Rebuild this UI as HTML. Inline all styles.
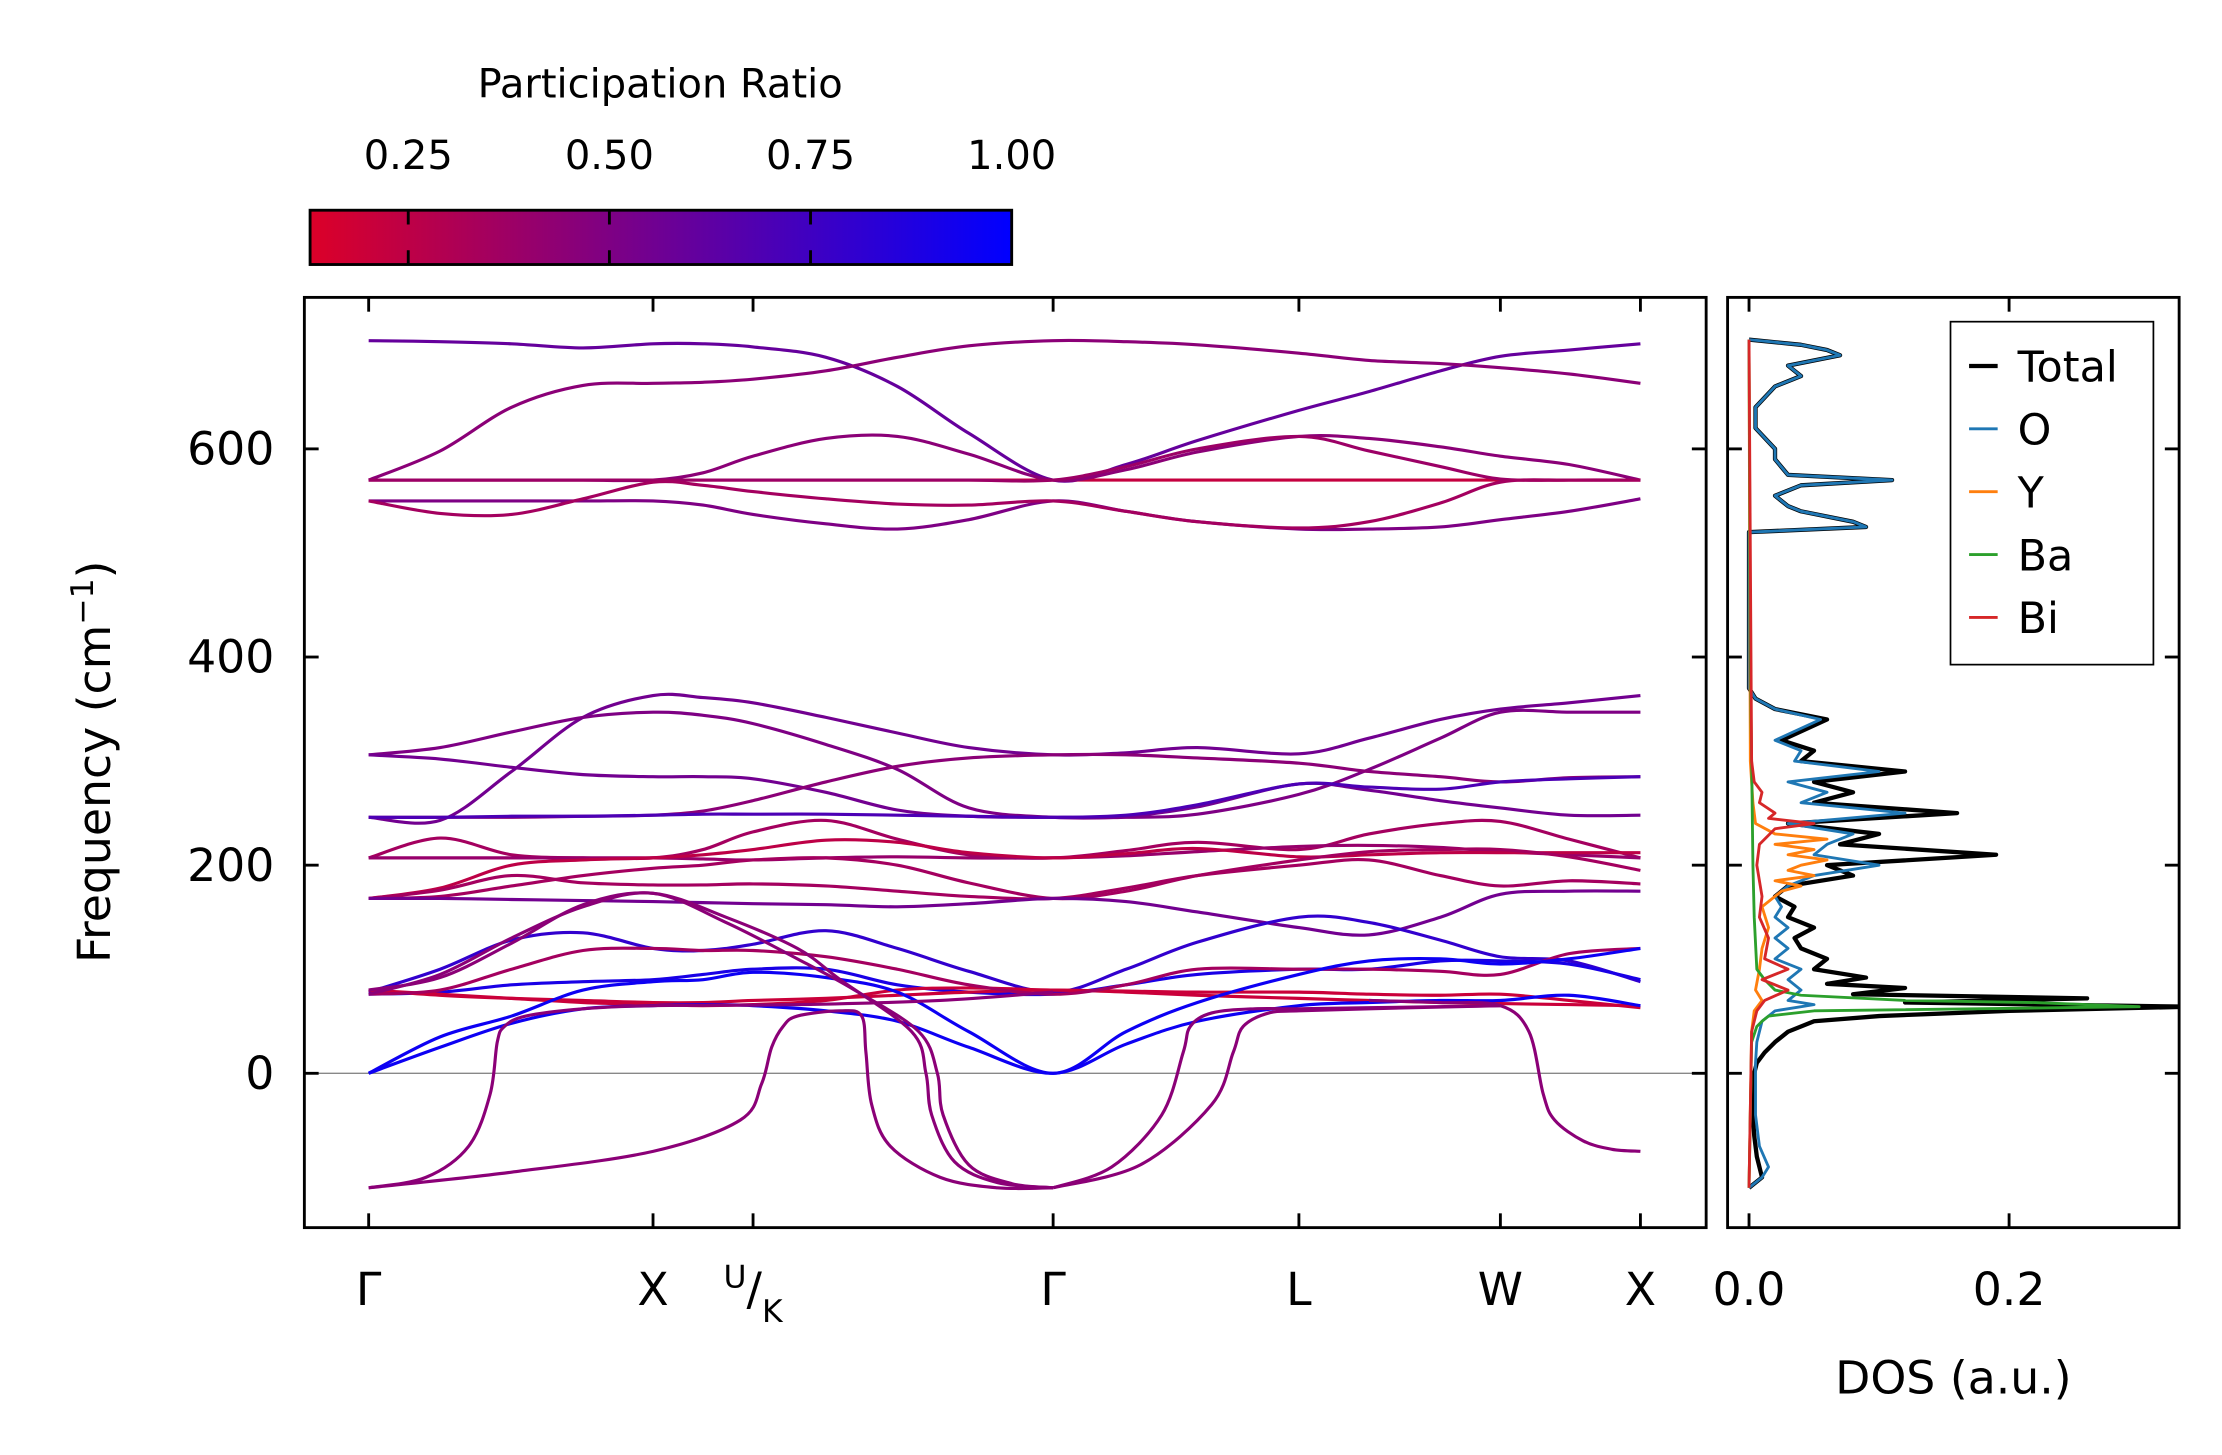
<!DOCTYPE html>
<html><head><meta charset="utf-8"><style>
html,body{margin:0;padding:0;background:#fff}
svg{display:block}
text{font-family:"DejaVu Sans","Liberation Sans",sans-serif;fill:#000}
</style></head><body>
<svg id="fig" width="2222" height="1455" viewBox="0 0 1555 1018" xmlns="http://www.w3.org/2000/svg">
<defs>
<linearGradient id="cbg" x1="0" x2="1" y1="0" y2="0">
<stop offset="0" stop-color="rgb(220,0,40)"/><stop offset="1" stop-color="rgb(0,0,255)"/>
</linearGradient>
<clipPath id="clipMain"><rect x="213" y="208" width="981" height="651"/></clipPath>
<clipPath id="clipDos"><rect x="1209" y="208" width="316" height="651"/></clipPath>
</defs>
<g id="colorbar">
<text x="462" y="68" font-size="28" text-anchor="middle">Participation Ratio</text>
<rect x="217" y="147" width="491" height="38" fill="url(#cbg)" stroke="#000" stroke-width="2"/>
</g>
<g id="bands" clip-path="url(#clipMain)"></g>
<g id="dos" clip-path="url(#clipDos)"></g>
<g id="axes"></g>
<g id="legend">
<rect x="1365" y="225" width="142" height="240" fill="#fff" stroke="#000" stroke-width="1.2"/>
</g>
</svg>
<script>
// ---- Band structure data ----
const kTickPos = [0,199,269,479,651,792,890];
const kTickLabels = ["Γ","X","U/K","Γ","L","W","X"];
const kGrid = [0,50,100,150,199,234,269,320,370,420,479,530,580,651,700,750,792,840,890];
const bandFreqs = [
[704,703,701,697,701,701,698,688,660,615,570,585,608,637,655,675,689,695,701],
[570,598,640,661,663,664,667,675,688,699,704,703,700,692,685,682,678,672,663],
[570,570,570,570,570,570,570,570,570,570,570,570,570,570,570,570,570,570,570],
[570,570,570,570,570,577,593,610,612,595,570,580,597,612,610,602,593,585,570],
[570,570,570,570,570,570,570,570,570,570,570,583,600,612,598,583,571,570,570],
[550,550,550,550,550,546,537,528,523,532,550,540,530,523,523,525,532,540,552],
[550,538,537,552,568,565,559,552,547,546,550,540,530,524,530,548,568,570,570],
[246,243,290,342,363,361,356,342,327,313,306,308,313,307,322,340,350,356,363],
[306,313,328,342,347,344,336,316,292,255,246,246,249,268,292,322,347,347,347],
[306,302,294,287,285,285,283,270,253,247,246,247,256,278,272,262,255,248,248],
[246,246,246,247,248,252,262,280,295,303,306,306,303,298,290,285,280,284,285],
[246,246,247,247,248,249,249,249,248,247,246,248,258,278,275,273,280,283,285],
[207,226,210,207,207,215,232,243,225,210,207,214,222,215,230,240,242,225,207],
[207,207,207,207,207,206,205,207,208,207,207,209,213,218,219,217,213,210,207],
[168,178,200,205,207,210,215,224,222,212,207,211,216,208,210,212,212,212,212],
[168,170,180,190,197,200,205,207,200,183,168,175,190,205,213,215,215,208,195],
[168,176,190,183,181,181,182,180,175,170,168,178,190,200,205,190,180,185,182],
[168,168,167,166,165,164,163,162,160,163,168,165,155,140,133,150,172,175,175],
[78,100,128,135,120,118,124,137,120,98,78,100,126,150,145,128,112,108,88],
[76,78,85,88,90,95,100,100,85,78,76,85,95,100,100,108,108,105,90],
[80,75,72,70,68,68,70,72,75,78,80,78,75,72,70,68,67,66,65],
[80,76,72,68,66,65,66,70,80,82,80,79,78,78,76,75,76,70,63],
[76,80,100,118,120,118,118,112,100,85,76,85,100,100,100,98,95,115,120],
[0,35,55,80,88,90,97,92,78,40,0,40,68,95,108,110,105,110,120],
[0,25,48,62,65,66,65,60,50,25,0,28,50,65,68,70,70,75,65]
];
const bandPR = [0.6,0.45,0.22,0.45,0.38,0.5,0.35,0.55,0.5,0.55,0.45,0.7,0.35,0.4,0.25,0.35,0.35,0.55,0.8,0.9,0.2,0.2,0.35,0.95,0.95];
const softK = [
[0,40,70,85,90,95,110,150,199,300,400,479],
[0,100,199,260,275,282,290,300,330,345,348,352,365,400,440,479],
[0,50,100,150,199,250,300,330,380,390,394,410,440,479],
[0,50,100,150,199,250,300,340,385,398,402,420,450,479],
[479,520,555,570,575,590,620,651,700,792],
[479,540,590,605,612,630,651,700,792],
[700,750,792,812,822,830,850,870,890]
];
const softF = [
[-110,-100,-70,-20,30,45,55,62,65,66,70,78],
[-110,-95,-75,-45,-10,25,45,55,60,55,20,-30,-70,-100,-110,-110],
[80,92,125,162,173,150,120,90,40,0,-40,-85,-105,-110],
[76,95,130,160,173,145,110,80,40,0,-40,-88,-106,-110],
[-110,-90,-40,20,45,58,62,62,63,65],
[-110,-88,-30,20,45,58,60,62,65],
[70,68,65,40,-20,-45,-65,-73,-75]
];
const softPR = [0.45,0.45,0.45,0.45,0.45,0.45,0.45];
const yTicks = [0,200,400,600];
const cbTicks = [0.25,0.5,0.75,1.0];
const cbLabels = ["0.25","0.50","0.75","1.00"];
// ---- DOS data ----
const dosTotalF = [-110,-100,-80,-60,-40,-20,0,10,20,30,40,50,55,60,64,68,72,76,82,86,92,100,110,120,130,140,150,160,170,180,190,200,210,220,230,240,250,260,270,280,290,300,310,320,340,350,360,370,520,525,530,540,545,555,565,570,575,590,600,620,640,660,670,680,690,695,700,705];
const dosTotalV = [0,0.01,0.006,0.004,0.003,0.003,0.004,0.006,0.012,0.02,0.03,0.05,0.1,0.2,0.34,0.12,0.26,0.08,0.12,0.06,0.09,0.05,0.06,0.04,0.035,0.05,0.03,0.035,0.02,0.03,0.08,0.06,0.19,0.07,0.1,0.03,0.16,0.05,0.08,0.05,0.12,0.04,0.05,0.025,0.06,0.02,0.005,0,0,0.09,0.08,0.04,0.03,0.02,0.04,0.11,0.03,0.02,0.02,0.005,0.005,0.02,0.04,0.03,0.07,0.06,0.04,0];
const dosOF = [-110,-100,-90,-70,-40,-10,10,30,50,60,66,70,80,90,100,110,120,130,140,150,160,170,180,190,200,210,220,230,240,250,260,270,280,290,300,310,320,340,350,360,370,520,525,530,540,545,555,565,570,575,590,600,620,640,660,670,680,690,695,700,705];
const dosOV = [0,0.01,0.015,0.008,0.005,0.005,0.005,0.006,0.01,0.02,0.05,0.03,0.04,0.03,0.04,0.02,0.03,0.02,0.03,0.02,0.025,0.02,0.03,0.05,0.1,0.05,0.06,0.08,0.03,0.12,0.04,0.06,0.03,0.1,0.035,0.04,0.02,0.055,0.02,0.005,0,0,0.09,0.08,0.04,0.03,0.02,0.04,0.11,0.03,0.02,0.02,0.005,0.005,0.02,0.04,0.03,0.07,0.06,0.04,0];
const dosYF = [-110,40,60,70,80,100,120,140,160,175,180,185,190,195,200,205,210,215,220,225,230,240,260,300,705];
const dosYV = [0,0.002,0.004,0.01,0.005,0.008,0.01,0.015,0.01,0.025,0.04,0.02,0.05,0.03,0.04,0.06,0.03,0.05,0.02,0.06,0.02,0.005,0.003,0.001,0];
const dosBaF = [-110,30,45,50,55,60,64,68,70,75,80,90,100,150,200,300,400,705];
const dosBaV = [0,0.002,0.006,0.01,0.015,0.05,0.3,0.22,0.12,0.04,0.02,0.012,0.006,0.004,0.003,0.002,0.001,0];
const dosBiF = [-110,40,60,70,80,90,100,110,130,150,170,200,220,235,240,245,250,260,270,280,300,705];
const dosBiV = [0,0.002,0.006,0.012,0.03,0.01,0.03,0.012,0.015,0.008,0.01,0.006,0.008,0.02,0.05,0.015,0.02,0.008,0.01,0.004,0.002,0];
const legendNames = ["Total","O","Y","Ba","Bi"];
const legendColors = ["#000000","#1f77b4","#ff7f0e","#2ca02c","#d62728"];

const NS="http://www.w3.org/2000/svg";
const X0=258, YZ=751, YS=0.7283, DX0=1224, DXS=910;
const xK=k=>X0+k, yF=f=>YZ-f*YS, xD=v=>DX0+v*DXS;
function prColor(p){const t=Math.max(0,Math.min(1,(p-0.128)/(1-0.128)));return `rgb(${Math.round(220*(1-t))},0,${Math.round(40+215*t)})`;}
function mk(tag,attrs,parent){const e=document.createElementNS(NS,tag);for(const a in attrs)e.setAttribute(a,attrs[a]);parent.appendChild(e);return e;}
function smoothPath(xs,ys){
  let d=`M${xs[0].toFixed(2)},${ys[0].toFixed(2)}`;
  const n=xs.length;
  for(let i=0;i<n-1;i++){
    const x0=xs[Math.max(0,i-1)],y0=ys[Math.max(0,i-1)],x1=xs[i],y1=ys[i],x2=xs[i+1],y2=ys[i+1],x3=xs[Math.min(n-1,i+2)],y3=ys[Math.min(n-1,i+2)];
    const c1x=x1+(x2-x0)/6,c1y=y1+(y2-y0)/6,c2x=x2-(x3-x1)/6,c2y=y2-(y3-y1)/6;
    d+=` C${c1x.toFixed(2)},${c1y.toFixed(2)} ${c2x.toFixed(2)},${c2y.toFixed(2)} ${x2.toFixed(2)},${y2.toFixed(2)}`;
  }
  return d;
}
const gB=document.getElementById('bands');
const zl=mk('line',{x1:213,x2:1194,y1:yF(0),y2:yF(0),stroke:'#888',"stroke-width":1},gB);


bandFreqs.forEach((fs,i)=>{
  const p=mk('path',{d:smoothPath(kGrid.map(xK),fs.map(yF)),fill:'none',stroke:prColor(bandPR[i]),"stroke-width":2.2},gB);
  
  
});
softK.forEach((ks,i)=>{
  const p=mk('path',{d:smoothPath(ks.map(xK),softF[i].map(yF)),fill:'none',stroke:prColor(softPR[i]),"stroke-width":2.2},gB);
  
  
});
// DOS
const gD=document.getElementById('dos');
const dosSeries=[[dosTotalF,dosTotalV,'total',3],[dosOF,dosOV,'o',2],[dosYF,dosYV,'y',2],[dosBaF,dosBaV,'ba',2],[dosBiF,dosBiV,'bi',2]];
dosSeries.forEach((s,i)=>{
  const pts=s[0].map((f,j)=>xD(s[1][j]).toFixed(2)+','+yF(f).toFixed(2)).join(' ');
  const pl=mk('polyline',{points:pts,fill:'none',stroke:legendColors[i],"stroke-width":s[3],"stroke-linejoin":"round"},gD);
  
  
});
// Axes
const gA=document.getElementById('axes');
const fr1=mk('rect',{x:213,y:208,width:981,height:651,fill:'none',stroke:'#000',"stroke-width":2},gA);


const fr2=mk('rect',{x:1209,y:208,width:316,height:651,fill:'none',stroke:'#000',"stroke-width":2},gA);


yTicks.forEach(v=>{
  const y=yF(v);
  [[213,223],[1184,1194],[1209,1219],[1515,1525]].forEach(([a,b])=>{const t=mk('line',{x1:a,x2:b,y1:y,y2:y,stroke:'#000',"stroke-width":2},gA);});
  const tx=mk('text',{x:192,y:y+11,"font-size":32,"text-anchor":"end"},gA);tx.textContent=String(v);
  
  
});
kTickPos.forEach((k,i)=>{
  const x=xK(k);
  [[849,859],[208,218]].forEach(([a,b])=>{const t=mk('line',{x1:x,x2:x,y1:a,y2:b,stroke:'#000',"stroke-width":2},gA);});
  const tx=mk('text',{x:x,y:913,"font-size":32,"text-anchor":"middle"},gA);
  if(kTickLabels[i]==="U/K"){
    tx.innerHTML='<tspan font-size="22" dy="-12">U</tspan><tspan dy="12">/</tspan><tspan font-size="22" dy="12">K</tspan>';
  } else tx.textContent=kTickLabels[i];
  
  
});
[0,0.2].forEach((v,i)=>{
  const x=xD(v);
  [[849,859],[208,218]].forEach(([a,b])=>{const t=mk('line',{x1:x,x2:x,y1:a,y2:b,stroke:'#000',"stroke-width":2},gA);});
  const tx=mk('text',{x:x,y:913,"font-size":32,"text-anchor":"middle"},gA);tx.textContent=v.toFixed(1);
  
  
});
const yl=mk('text',{x:0,y:0,"font-size":32,"text-anchor":"middle",transform:"translate(77,533) rotate(-90)"},gA);
yl.innerHTML='Frequency (cm<tspan font-size="22" dy="-12">−1</tspan><tspan dy="12">)</tspan>';


const xl=mk('text',{x:1367,y:975,"font-size":32,"text-anchor":"middle"},gA);xl.textContent='DOS (a.u.)';


// colorbar ticks
const gC=document.getElementById('colorbar');
cbTicks.forEach((v,i)=>{
  const x=217+(v-0.128)/(1-0.128)*491;
  if(v<1){
    [[147,157],[175,185]].forEach(([a,b])=>{const t=mk('line',{x1:x,x2:x,y1:a,y2:b,stroke:'#000',"stroke-width":2},gC);});
  }
  const tx=mk('text',{x:x,y:118,"font-size":28,"text-anchor":"middle"},gC);tx.textContent=cbLabels[i];
  
  
});
// legend
const gL=document.getElementById('legend');
legendNames.forEach((n,i)=>{
  const y=256+i*44;
  const l=mk('line',{x1:1378,x2:1398,y1:y,y2:y,stroke:legendColors[i],"stroke-width":i===0?3:2},gL);
  
  
  const t=mk('text',{x:1412,y:y+11,"font-size":30},gL);t.textContent=n;
  
  
});
</script>
</body></html>
